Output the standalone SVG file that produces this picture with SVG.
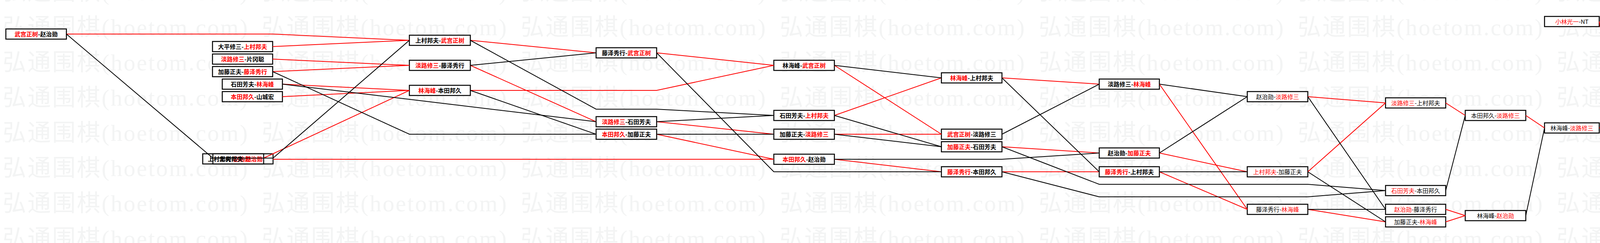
<svg xmlns="http://www.w3.org/2000/svg" width="4700" height="621" viewBox="0 0 4700 621">
<style>
.bg{fill:#ffffff}
.b{fill:#ffffff;stroke:#000000;stroke-width:2.5}
.t{font-family:"Noto Sans CJK SC","Noto Sans CJK JP",sans-serif;font-size:15px;fill:#000000;text-anchor:middle}
.h{font-weight:bold}
.ts{font-family:"Noto Sans CJK SC","Noto Sans CJK JP",sans-serif;font-size:15px;font-weight:bold;fill:#000000;text-anchor:start}
.r{fill:#ff0000}
.lr{stroke:#ff0000;stroke-width:2;fill:none}
.lk{stroke:#000000;stroke-width:2;fill:none}
.wm{font-family:"Liberation Serif","Noto Sans CJK SC",serif;font-size:60px;fill:#f3f4f4}
</style>
<defs>
<pattern id="wmp" patternUnits="userSpaceOnUse" x="7" y="35" width="663" height="90">
<text class="wm" x="0" y="55" textLength="627" lengthAdjust="spacing">弘通围棋(hoetom.com)</text>
</pattern>
</defs>
<rect class="bg" x="0" y="0" width="4700" height="621"/>
<rect x="0" y="0" width="4700" height="621" fill="url(#wmp)"/>

<g id="n1"><rect class="b" x="15" y="74" width="155" height="26"/><text class="t h" x="92.5" y="93"><tspan class="r">武宫正树</tspan>-赵治勋</text></g>
<g id="n2"><rect class="b" x="544" y="106" width="154" height="26"/><text class="t h" x="621" y="125">大平修三-<tspan class="r">上村邦夫</tspan></text></g>
<g id="n3"><rect class="b" x="544" y="138" width="154" height="26"/><text class="t h" x="621" y="157"><tspan class="r">淡路修三</tspan>-片冈聪</text></g>
<g id="n4"><rect class="b" x="544" y="170" width="154" height="26"/><text class="t h" x="621" y="189">加藤正夫-<tspan class="r">藤泽秀行</tspan></text></g>
<g id="n5"><rect class="b" x="569" y="202" width="154" height="26"/><text class="t h" x="646" y="221">石田芳夫-<tspan class="r">林海峰</tspan></text></g>
<g id="n6"><rect class="b" x="569" y="234" width="154" height="26"/><text class="t h" x="646" y="253"><tspan class="r">本田邦久</tspan>-山城宏</text></g>
<g id="n7"><rect class="b" x="519" y="393" width="180" height="26"/><rect class="b" x="545" y="393" width="130" height="26"/><text class="ts" x="532" y="412">上村邦夫-<tspan class="r">赵治勋</tspan></text><text class="ts" x="562" y="412">上村邦夫-<tspan class="r">赵治勋</tspan></text></g>
<g id="n8"><rect class="b" x="1048" y="90" width="156" height="26"/><text class="t h" x="1126" y="109">上村邦夫-<tspan class="r">武宫正树</tspan></text></g>
<g id="n9"><rect class="b" x="1048" y="154" width="156" height="26"/><text class="t h" x="1126" y="173"><tspan class="r">淡路修三</tspan>-藤泽秀行</text></g>
<g id="n10"><rect class="b" x="1048" y="218" width="156" height="26"/><text class="t h" x="1126" y="237"><tspan class="r">林海峰</tspan>-本田邦久</text></g>
<g id="n11"><rect class="b" x="1526" y="122" width="155" height="26"/><text class="t h" x="1603.5" y="141">藤泽秀行-<tspan class="r">武宫正树</tspan></text></g>
<g id="n12"><rect class="b" x="1526" y="298" width="155" height="26"/><text class="t h" x="1603.5" y="317"><tspan class="r">淡路修三</tspan>-石田芳夫</text></g>
<g id="n13"><rect class="b" x="1526" y="330" width="155" height="26"/><text class="t h" x="1603.5" y="349"><tspan class="r">本田邦久</tspan>-加藤正夫</text></g>
<g id="n14"><rect class="b" x="1981" y="154" width="155" height="26"/><text class="t h" x="2058.5" y="173">林海峰-<tspan class="r">武宫正树</tspan></text></g>
<g id="n15"><rect class="b" x="1981" y="282" width="155" height="26"/><text class="t h" x="2058.5" y="301">石田芳夫-<tspan class="r">上村邦夫</tspan></text></g>
<g id="n16"><rect class="b" x="1981" y="330" width="155" height="26"/><text class="t h" x="2058.5" y="349">加藤正夫-<tspan class="r">淡路修三</tspan></text></g>
<g id="n17"><rect class="b" x="1981" y="394" width="155" height="26"/><text class="t h" x="2058.5" y="413"><tspan class="r">本田邦久</tspan>-赵治勋</text></g>
<g id="n18"><rect class="b" x="2410" y="186" width="155" height="26"/><text class="t h" x="2487.5" y="205"><tspan class="r">林海峰</tspan>-上村邦夫</text></g>
<g id="n19"><rect class="b" x="2410" y="330" width="155" height="26"/><text class="t h" x="2487.5" y="349"><tspan class="r">武宫正树</tspan>-淡路修三</text></g>
<g id="n20"><rect class="b" x="2410" y="362" width="155" height="26"/><text class="t h" x="2487.5" y="381"><tspan class="r">加藤正夫</tspan>-石田芳夫</text></g>
<g id="n21"><rect class="b" x="2410" y="426" width="155" height="26"/><text class="t h" x="2487.5" y="445"><tspan class="r">藤泽秀行</tspan>-本田邦久</text></g>
<g id="n22"><rect class="b" x="2814" y="202" width="154" height="26"/><text class="t h" x="2891" y="221">淡路修三-<tspan class="r">林海峰</tspan></text></g>
<g id="n23"><rect class="b" x="2814" y="378" width="154" height="26"/><text class="t h" x="2891" y="397">赵治勋-<tspan class="r">加藤正夫</tspan></text></g>
<g id="n24"><rect class="b" x="2814" y="426" width="154" height="26"/><text class="t h" x="2891" y="445"><tspan class="r">藤泽秀行</tspan>-上村邦夫</text></g>
<g id="n25"><rect class="b" x="3193" y="234" width="155" height="26"/><text class="t" x="3270.5" y="253">赵治勋-<tspan class="r">淡路修三</tspan></text></g>
<g id="n26"><rect class="b" x="3193" y="426" width="155" height="26"/><text class="t" x="3270.5" y="445"><tspan class="r">上村邦夫</tspan>-加藤正夫</text></g>
<g id="n27"><rect class="b" x="3193" y="522" width="155" height="26"/><text class="t" x="3270.5" y="541">藤泽秀行-<tspan class="r">林海峰</tspan></text></g>
<g id="n28"><rect class="b" x="3547" y="250" width="154" height="26"/><text class="t" x="3624" y="269"><tspan class="r">淡路修三</tspan>-上村邦夫</text></g>
<g id="n29"><rect class="b" x="3547" y="474" width="154" height="26"/><text class="t" x="3624" y="493"><tspan class="r">石田芳夫</tspan>-本田邦久</text></g>
<g id="n30"><rect class="b" x="3547" y="522" width="154" height="26"/><text class="t" x="3624" y="541"><tspan class="r">赵治勋</tspan>-藤泽秀行</text></g>
<g id="n31"><rect class="b" x="3547" y="554" width="154" height="26"/><text class="t" x="3624" y="573">加藤正夫-<tspan class="r">林海峰</tspan></text></g>
<g id="n32"><rect class="b" x="3751" y="282" width="155" height="26"/><text class="t" x="3828.5" y="301">本田邦久-<tspan class="r">淡路修三</tspan></text></g>
<g id="n33"><rect class="b" x="3751" y="538" width="155" height="26"/><text class="t" x="3828.5" y="557">林海峰-<tspan class="r">赵治勋</tspan></text></g>
<g id="n34"><rect class="b" x="3954" y="314" width="140" height="26"/><text class="t" x="4024" y="333">林海峰-<tspan class="r">淡路修三</tspan></text></g>
<g id="n35"><rect class="b" x="3954" y="42" width="140" height="26"/><text class="t" x="4024" y="61"><tspan class="r">小林光一</tspan>-NT</text></g>
<g id="n36"><rect class="b" x="4143" y="298" width="155" height="26"/><text class="t" x="4220.5" y="317"><tspan class="r">小林光一</tspan>-淡路修三</text></g>
<g id="n37"><rect class="b" x="4143" y="586" width="155" height="26"/><text class="t" x="4220.5" y="605"><tspan class="r">片冈聪</tspan>-NT</text></g>
<g id="n38"><rect class="b" x="4347" y="314" width="138" height="26"/><text class="t" x="4416" y="333"><tspan class="r">淡路修三</tspan>-片冈聪</text></g>
<g id="n39"><rect class="b" x="4347" y="10" width="138" height="26"/><text class="t" x="4416" y="29"><tspan class="r">小林光一</tspan>-NT</text></g>
<g id="n40"><rect class="b" x="4535" y="298" width="154" height="26"/><text class="t" x="4612" y="317"><tspan class="r">小林光一</tspan>-淡路修三</text></g>

<g id="connectors">
<path class="lr" d="M170 87H698L1048 103"/>
<path class="lr" d="M675 404L1048 231"/>
<path class="lr" d="M699 407H1981"/>
<path class="lr" d="M698 119L1048 103"/>
<path class="lr" d="M698 151L1048 167"/>
<path class="lr" d="M698 183L1048 167"/>
<path class="lr" d="M723 215L1048 231"/>
<path class="lr" d="M723 247L1048 231"/>
<path class="lr" d="M1204 103L1526 135"/>
<path class="lr" d="M1204 167L1526 311"/>
<path class="lr" d="M1204 231H1681L1981 167"/>
<path class="lr" d="M1681 135L1981 167"/>
<path class="lr" d="M1681 311L1981 343"/>
<path class="lr" d="M1681 343L1981 407"/>
<path class="lr" d="M2136 167L2410 343"/>
<path class="lr" d="M2136 295L2410 199"/>
<path class="lr" d="M2136 343H2410"/>
<path class="lr" d="M2136 407L2410 439"/>
<path class="lr" d="M2565 199L2814 215"/>
<path class="lr" d="M2565 375L2814 391"/>
<path class="lr" d="M2565 439H2814"/>
<path class="lr" d="M2968 215L3193 535"/>
<path class="lr" d="M2968 391L3193 439"/>
<path class="lr" d="M2968 439L3193 535"/>
<path class="lr" d="M3348 247L3547 263"/>
<path class="lr" d="M3348 439L3547 263"/>
<path class="lr" d="M3348 535L3547 567"/>
<path class="lr" d="M3701 263L3751 295"/>
<path class="lr" d="M3701 535L3751 551"/>
<path class="lr" d="M3701 567L3751 551"/>
<path class="lr" d="M3906 295L3954 327"/>
<path class="lr" d="M4094 55L4143 311"/>
<path class="lr" d="M4094 327L4143 311"/>
<path class="lr" d="M4298 599L4347 327"/>
<path class="lr" d="M4485 327L4535 311"/>
<path class="lr" d="M4485 23L4535 311"/>
<path class="lk" d="M170 87L545 404H699L1048 103"/>
<path class="lk" d="M698 183L1048 343H1526"/>
<path class="lk" d="M723 215L1526 311"/>
<path class="lk" d="M1204 103L1526 279H1681L1981 295"/>
<path class="lk" d="M1204 167L1526 135"/>
<path class="lk" d="M1204 231L1526 343"/>
<path class="lk" d="M1681 135L1981 439H2410"/>
<path class="lk" d="M1681 311L1981 295"/>
<path class="lk" d="M1681 343H1981"/>
<path class="lk" d="M2136 167L2410 199"/>
<path class="lk" d="M2136 295L2410 375"/>
<path class="lk" d="M2136 343L2410 375"/>
<path class="lk" d="M2136 407H2565L2814 391"/>
<path class="lk" d="M2565 199L2814 439"/>
<path class="lk" d="M2565 343L2814 215"/>
<path class="lk" d="M2565 375L2814 471H3348L3547 487"/>
<path class="lk" d="M2565 439L2814 503H3348L3547 487"/>
<path class="lk" d="M2968 215L3193 247"/>
<path class="lk" d="M2968 391L3193 247"/>
<path class="lk" d="M2968 439H3193"/>
<path class="lk" d="M3348 247L3547 535"/>
<path class="lk" d="M3348 439L3547 567"/>
<path class="lk" d="M3348 535H3547"/>
<path class="lk" d="M3701 487L3751 295"/>
<path class="lk" d="M3906 551L3954 327"/>
<path class="lk" d="M4298 311L4347 327"/>
</g>
</svg>
